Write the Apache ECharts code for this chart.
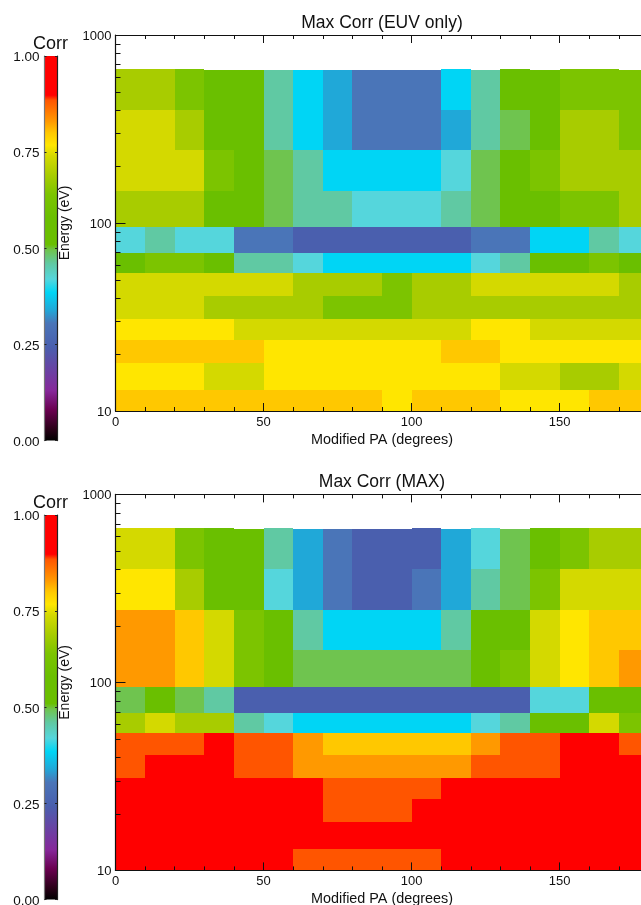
<!DOCTYPE html>
<html>
<head>
<meta charset="utf-8">
<style>html,body{margin:0;padding:0;background:#fff;overflow:hidden}#c{width:641px;height:905px}</style>
<script src="https://cdn.jsdelivr.net/npm/echarts@6/dist/echarts.min.js"></script>
</head>
<body>
<div id="c"></div>
<script>
var paEdges = [0,10,20,30,40,50,60,70,80,90,100,110,120,130,140,150,160,170,180];
var energyEdges = [651,399,244,148,95,69,54,41,31,24,18,13,10];
var euvTopEdge = [659,659,659,651,651,651,651,651,651,651,651,659,651,659,651,659,659,651];
var maxTopEdge = [659,659,659,659,651,659,651,651,651,651,659,651,659,651,659,659,659,659];

var euvRows = [
[.69,.69,.63,.57,.57,.45,.37,.32,.28,.28,.28,.37,.45,.57,.57,.63,.63,.63],
[.73,.73,.69,.57,.57,.45,.37,.32,.28,.28,.28,.32,.45,.49,.57,.69,.69,.63],
[.73,.73,.73,.63,.57,.49,.45,.37,.37,.37,.37,.41,.49,.57,.63,.69,.69,.69],
[.69,.69,.69,.57,.57,.49,.45,.45,.41,.41,.41,.45,.49,.57,.57,.63,.63,.69],
[.41,.45,.41,.41,.28,.28,.24,.24,.24,.24,.24,.24,.28,.28,.37,.37,.45,.41],
[.57,.63,.63,.57,.45,.45,.41,.37,.37,.37,.37,.37,.41,.45,.57,.57,.63,.57],
[.73,.73,.73,.73,.73,.73,.69,.69,.69,.63,.69,.69,.73,.73,.73,.73,.73,.69],
[.73,.73,.73,.69,.69,.69,.69,.63,.63,.63,.69,.69,.69,.69,.69,.69,.69,.69],
[.77,.77,.77,.77,.73,.73,.73,.73,.73,.73,.73,.73,.77,.77,.73,.73,.73,.73],
[.80,.80,.80,.80,.80,.77,.77,.77,.77,.77,.77,.80,.80,.77,.77,.77,.77,.77],
[.77,.77,.77,.73,.73,.77,.77,.77,.77,.77,.77,.77,.77,.73,.73,.69,.69,.73],
[.80,.80,.80,.80,.80,.80,.80,.80,.80,.77,.80,.80,.80,.77,.77,.77,.80,.80]
];
var maxRows = [
[.73,.73,.63,.57,.57,.45,.32,.28,.24,.24,.24,.32,.41,.49,.57,.63,.69,.69],
[.77,.77,.69,.57,.57,.41,.32,.28,.24,.24,.28,.32,.45,.49,.63,.73,.73,.73],
[.83,.83,.80,.73,.63,.57,.45,.37,.37,.37,.37,.45,.57,.57,.73,.77,.80,.80],
[.83,.83,.80,.73,.63,.57,.49,.49,.49,.49,.49,.49,.57,.63,.73,.77,.80,.83],
[.49,.57,.49,.45,.24,.24,.24,.24,.24,.24,.24,.24,.24,.24,.41,.41,.57,.57],
[.69,.73,.69,.69,.45,.41,.37,.37,.37,.37,.37,.37,.41,.45,.57,.57,.73,.63],
[.88,.88,.88,.95,.88,.88,.83,.80,.80,.80,.80,.80,.83,.88,.88,.95,.95,.88],
[.88,.95,.95,.95,.88,.88,.83,.83,.83,.83,.83,.83,.88,.88,.88,.95,.95,.95],
[.95,.95,.95,.95,.95,.95,.95,.88,.88,.88,.88,.95,.95,.95,.95,.95,.95,.95],
[.95,.95,.95,.95,.95,.95,.95,.88,.88,.88,.95,.95,.95,.95,.95,.95,.95,.95],
[.95,.95,.95,.95,.95,.95,.95,.95,.95,.95,.95,.95,.95,.95,.95,.95,.95,.95],
[.95,.95,.95,.95,.95,.95,.88,.88,.88,.88,.88,.95,.95,.95,.95,.95,.95,.95]
];
var levelValues = [.95,.88,.83,.80,.77,.73,.69,.63,.57,.49,.45,.41,.37,.32,.28,.24];
var levelColors = ['#ff0000','#ff5500','#ff9900','#ffc800','#ffe600','#d4d900','#a8cc00','#7cc400','#6abf00','#6fc44f','#60c9a3','#55d6dc','#00d5f5','#20a8d8','#4a75b8','#4a5fae'];
var barStopValues = [1,.898,.885,.83,.80,.768,.74,.69,.64,.58,.51,.495,.46,.42,.385,.34,.305,.243,.13,.08,.03,0];
var barStopColors = ['#ff0000','#ff0000','#ff5500','#ff9900','#ffc800','#ffe600','#d4d900','#a8cc00','#7cc400','#6abf00','#6abf00','#6fc44f','#60c9a3','#55d6dc','#00d5f5','#20a8d8','#4a75b8','#4a5fae','#86289a','#6a0050','#2a0018','#000000'];
var yMinorTicks = [20,30,40,50,60,70,80,90,200,300,400,500,600,700,800,900];
var panels = [
  {title:'Max Corr (EUV only)', rows:euvRows, top:euvTopEdge, gridTop:35, barTop:56},
  {title:'Max Corr (MAX)', rows:maxRows, top:maxTopEdge, gridTop:494.4, barTop:515}
];

var FONT = '"Liberation Sans", Arial, sans-serif';
var INK = '#111';
var GRID_H = 376, GRID_L = 115.5, GRID_W = 533, BAR_L = 44.5, BAR_W = 12.5, BAR_H = 384.6;

function levelColor(v){ return levelColors[levelValues.indexOf(v)]; }
function cellData(p){
  var out = [];
  p.rows.forEach(function(row,r){
    row.forEach(function(v,c){
      var e1 = r === 0 ? p.top[c] : energyEdges[r];
      out.push([paEdges[c], energyEdges[r+1], paEdges[c+1], e1, v]);
    });
  });
  return out;
}
function renderCell(params, api){
  var a = api.coord([api.value(0), api.value(3)]);
  var b = api.coord([api.value(2), api.value(1)]);
  var x0 = Math.round(a[0]), y0 = Math.round(a[1]), x1 = Math.round(b[0]), y1 = Math.round(b[1]);
  return {type:'rect', shape:{x:x0, y:y0, width:x1-x0, height:y1-y0},
    style:{fill:levelColor(api.value(4))}};
}
function renderTick(params, api){
  var a = api.coord([api.value(0), api.value(1)]);
  var y = Math.round(a[1]) + 0.5;
  return {type:'line', shape:{x1:a[0], y1:y, x2:a[0]+5, y2:y}, style:{stroke:INK, lineWidth:1}};
}
function renderBar(params, api){
  var a = api.coord([0, 1]);
  var b = api.coord([1, 0]);
  var stops = barStopValues.map(function(v,i){ return {offset:1-v, color:barStopColors[i]}; });
  return {type:'rect', shape:{x:a[0], y:a[1], width:b[0]-a[0], height:b[1]-a[1]},
    style:{fill:new echarts.graphic.LinearGradient(0,0,0,1,stops)}};
}

var option = {animation:false, backgroundColor:'#fff', grid:[], xAxis:[], yAxis:[], series:[], title:[]};
var textBase = {fontFamily:FONT, color:INK, fontWeight:'normal'};

panels.forEach(function(p,i){
  var heat = option.grid.length, bar = heat+1;
  option.grid.push({left:GRID_L, top:p.gridTop, width:GRID_W, height:GRID_H, containLabel:false, outerBoundsMode:'none'});
  option.grid.push({left:BAR_L, top:p.barTop, width:BAR_W, height:BAR_H, containLabel:false, outerBoundsMode:'none'});

  var xBase = function(pos, show){ return {
    type:'value', gridIndex:heat, min:0, max:180, interval:50, position:pos, z:10,
    axisLine:{show:true, onZero:false, lineStyle:{color:INK, width:1.2}},
    axisTick:{show:true, inside:true, length:8, lineStyle:{color:INK, width:1}},
    minorTick:{show:true, splitNumber:5, length:4, lineStyle:{color:INK, width:1}},
    splitLine:{show:false},
    axisLabel:{show:show, showMaxLabel:false, margin:5, fontFamily:FONT, fontSize:13, color:INK}
  };};
  var xb = xBase('bottom', true);
  xb.name = 'Modified PA (degrees)'; xb.nameLocation = 'middle'; xb.nameGap = 22;
  xb.nameTextStyle = {fontFamily:FONT, fontSize:14.4, color:INK};
  var xbi = option.xAxis.length; option.xAxis.push(xb);
  option.xAxis.push(xBase('top', false));

  var yh = option.yAxis.length;
  option.yAxis.push({
    type:'log', logBase:10, gridIndex:heat, min:10, max:1000, position:'left', z:10,
    name:'Energy (eV)', nameLocation:'middle', nameGap:42, nameRotate:90,
    nameTextStyle:{fontFamily:FONT, fontSize:14, color:INK},
    axisLine:{show:true, onZero:false, lineStyle:{color:INK, width:1.2}},
    axisTick:{show:true, inside:true, length:10, lineStyle:{color:INK, width:1}},
    minorTick:{show:false}, splitLine:{show:false}, minorSplitLine:{show:false},
    axisLabel:{margin:4, verticalAlign:'top', lineHeight:3, fontFamily:FONT, fontSize:13, color:INK,
      formatter:function(v){ return String(Math.round(v)); }}
  });

  var xbar = option.xAxis.length;
  option.xAxis.push({type:'value', gridIndex:bar, min:0, max:1, show:false});
  var ybarBase = function(pos, show, lineColor){ return {
    type:'value', gridIndex:bar, min:0, max:1, interval:.25, position:pos, z:10,
    axisLine:{show:true, onZero:false, lineStyle:{color:lineColor, width:1.2}},
    axisTick:{show:true, inside:true, length:2, lineStyle:{color:'#222', width:1}},
    splitLine:{show:false},
    axisLabel:{show:show, margin:5, verticalAlign:'top', lineHeight:3, fontFamily:FONT, fontSize:13.5, color:INK,
      formatter:function(v){ return v.toFixed(2); }}
  };};
  var ybar = option.yAxis.length;
  option.yAxis.push(ybarBase('left', true, '#777'));
  option.yAxis.push(ybarBase('right', false, '#222'));

  option.series.push({type:'custom', xAxisIndex:xbi, yAxisIndex:yh, clip:true, z:2, silent:true,
    renderItem:renderCell, data:cellData(p)});
  option.series.push({type:'custom', xAxisIndex:xbi, yAxisIndex:yh, clip:false, z:5, silent:true,
    renderItem:renderTick, data:yMinorTicks.map(function(v){ return [0,v]; })});
  option.series.push({type:'custom', xAxisIndex:xbar, yAxisIndex:ybar, z:2, silent:true,
    renderItem:renderBar, data:[[0,0]]});

  option.title.push({text:p.title, left:382, top:p.gridTop-21 , textAlign:'center', padding:0,
    textStyle:Object.assign({fontSize:17.5}, textBase)});
  option.title.push({text:'Corr', left:50.5, top:p.barTop-21, textAlign:'center', padding:0,
    textStyle:Object.assign({fontSize:18}, textBase)});
});

var chart = echarts.init(document.getElementById('c'), null, {renderer:'canvas', width:641, height:905});
chart.setOption(option);
</script>
</body>
</html>
